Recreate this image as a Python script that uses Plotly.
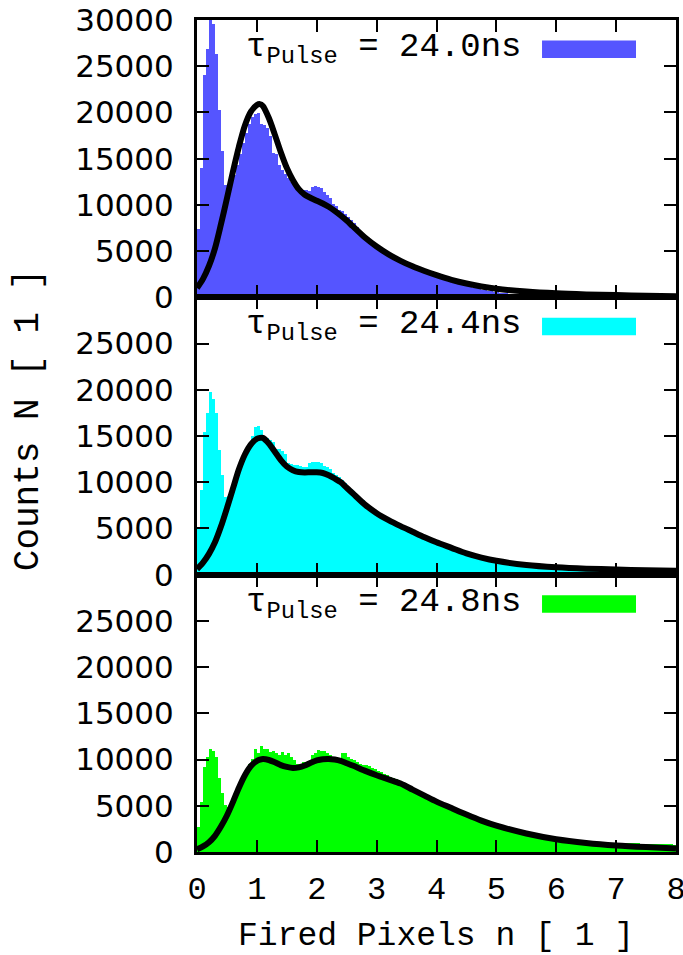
import numpy as np
import plotly.graph_objects as go
from plotly.subplots import make_subplots

# ---- histogram binning (fired pixels, 0.05 wide bins from 0 to 8) ----
BIN_WIDTH = 0.05
bin_left = np.arange(160) * BIN_WIDTH
bin_center = bin_left + BIN_WIDTH / 2

pulse_labels = ["24.0ns", "24.4ns", "24.8ns"]
bar_colors = ["#5555FF", "#00FFFF", "#00FF00"]

counts_24_0 = [
    7400, 14000, 24100, 26900, 30500, 29600, 26300, 20300, 15800, 12200,
    12000, 12300, 13200, 14300, 15500, 16700, 17800, 18800, 19500, 19800,
    19900, 18800, 18600, 18300, 17400, 15600, 15500, 14300, 13800, 13300,
    12900, 12500, 12200, 11900, 11700, 11600, 11600, 11500, 11900, 12000,
    11950, 11800, 11400, 11100, 10700, 10150, 9900, 9500, 9300, 9050,
    8700, 8400, 8000, 7600, 7200, 6800, 6500, 6200, 5900, 5600,
    5300, 5100, 4850, 4600, 4400, 4200, 4000, 3850, 3700, 3550,
    3400, 3250, 3100, 2950, 2800, 2700, 2550, 2450, 2350, 2250,
    2100, 2000, 1900, 1800, 1700, 1600, 1500, 1420, 1340, 1260,
    1180, 1100, 1030, 960, 890, 830, 770, 710, 660, 610,
    560, 520, 480, 440, 400, 370, 340, 310, 280, 250,
    230, 210, 190, 170, 150, 130, 120, 100, 90, 80,
    70, 60, 55, 50, 45, 40, 35, 30, 28, 25,
    22, 20, 18, 16, 15, 14, 12, 11, 10, 9,
    8, 8, 7, 7, 6, 6, 5, 5, 5, 4,
    4, 4, 3, 3, 3, 3, 2, 2, 2, 2,
]

counts_24_4 = [
    5000, 9100, 15400, 17400, 19700, 19000, 17400, 13400, 10700, 8400,
    8500, 9200, 10200, 11200, 12100, 12800, 13400, 13800, 15000, 15900,
    16100, 15600, 14900, 14700, 14500, 14300, 13600, 13600, 13300, 13000,
    12000, 11900, 11800, 11800, 11700, 11600, 11600, 12000, 12100, 12200,
    12100, 12000, 11700, 11600, 11400, 11000, 10700, 10500, 10200, 9900,
    9500, 9200, 8900, 8600, 8300, 8000, 7700, 7400, 7200, 6900,
    6600, 6400, 6200, 6000, 5800, 5600, 5400, 5300, 5100, 5000,
    4850, 4700, 4550, 4400, 4250, 4100, 3950, 3800, 3650, 3500,
    3350, 3250, 3100, 3000, 2850, 2750, 2600, 2500, 2400, 2300,
    2200, 2100, 2000, 1950, 1850, 1800, 1700, 1650, 1580, 1500,
    1450, 1400, 1350, 1300, 1250, 1200, 1150, 1100, 1080, 1040,
    1000, 970, 940, 910, 880, 850, 830, 810, 790, 770,
    750, 740, 720, 710, 700, 690, 680, 670, 660, 650,
    640, 640, 630, 620, 610, 600, 600, 590, 580, 580,
    570, 560, 560, 550, 550, 540, 540, 530, 530, 520,
    520, 510, 510, 500, 500, 490, 490, 480, 480, 470,
]

counts_24_8 = [
    2700, 5400, 9200, 10300, 11200, 11000, 10300, 8000, 6400, 5100,
    4900, 5400, 6000, 6800, 7600, 8300, 8600, 9600, 10150, 11200,
    10700, 11500, 11200, 11200, 10900, 11000, 10700, 10500, 10900, 10500,
    10700, 10300, 10000, 9600, 9600, 9800, 9600, 9600, 10500, 10700,
    11050, 10950, 10950, 10700, 10500, 10300, 10150, 10150, 10700, 10700,
    10300, 10150, 10000, 9800, 9600, 9500, 9400, 9300, 9100, 9000,
    8800, 8650, 8500, 8350, 8200, 8050, 7900, 7750, 7600, 7450,
    7250, 7100, 6900, 6750, 6550, 6400, 6200, 6050, 5850, 5700,
    5550, 5400, 5200, 5050, 4850, 4700, 4550, 4400, 4250, 4100,
    4000, 3850, 3700, 3550, 3450, 3300, 3200, 3050, 2950, 2850,
    2780, 2700, 2600, 2500, 2420, 2340, 2260, 2180, 2100, 2030,
    1970, 1900, 1840, 1780, 1720, 1670, 1620, 1570, 1520, 1480,
    1440, 1400, 1370, 1340, 1310, 1280, 1250, 1230, 1210, 1190,
    1170, 1150, 1130, 1120, 1100, 1090, 1080, 1060, 1050, 1040,
    1030, 1020, 1010, 1000, 990, 980, 970, 960, 950, 940,
    930, 920, 910, 900, 890, 880, 870, 860, 850, 840,
]

# ---- fitted model curves ----
fit_x = [0, 0.1, 0.2, 0.3, 0.4, 0.5, 0.6, 0.7, 0.8, 0.9, 1.0, 1.05, 1.1,
         1.2, 1.3, 1.4, 1.5, 1.6, 1.7, 1.8, 1.9, 2.0, 2.1, 2.2, 2.3, 2.4,
         2.5, 2.6, 2.8, 3.0, 3.2, 3.4, 3.6, 3.8, 4.0, 4.25, 4.5, 4.75,
         5.0, 5.5, 6.0, 6.5, 7.0, 7.5, 8.0]

fit_24_0 = [1000, 2000, 3400, 5300, 7900, 10700, 13600, 16300, 18600, 20100,
            20800, 20900, 20700, 19400, 17600, 15700, 14000, 12700, 11700,
            11100, 10750, 10450, 10150, 9800, 9350, 8850, 8300, 7700, 6500,
            5500, 4650, 3950, 3350, 2850, 2400, 1900, 1500, 1180, 930, 620,
            430, 320, 240, 170, 110]

fit_24_4 = [600, 1300, 2250, 3500, 5200, 7200, 9300, 11400, 13000, 14100,
            14700, 14800, 14800, 14200, 13300, 12400, 11700, 11300, 11100,
            11050, 11080, 11080, 11000, 10750, 10400, 10000, 9400, 8800, 7600,
            6650, 5900, 5250, 4650, 4050, 3500, 2900, 2300, 1850, 1500, 1050,
            800, 650, 560, 480, 420]

fit_24_8 = [290, 600, 1050, 1750, 2750, 3950, 5400, 6950, 8300, 9300,
            9850, 9980, 10050, 9950, 9700, 9400, 9200, 9080, 9150, 9350,
            9650, 9900, 10040, 10070, 10000, 9850, 9600, 9350, 8800, 8300,
            7850, 7400, 6750, 6100, 5450, 4750, 4050, 3400, 2850, 2000, 1380,
            980, 710, 530, 390]

counts = [counts_24_0, counts_24_4, counts_24_8]
fits = [fit_24_0, fit_24_4, fit_24_8]

x_ticks = list(range(0, 9))
y_ticks_top = [0, 5000, 10000, 15000, 20000, 25000, 30000]
y_ticks_lower = [0, 5000, 10000, 15000, 20000, 25000]

MONO = "Liberation Mono"
SANS = "DejaVu Sans"

fig = make_subplots(rows=3, cols=1, shared_xaxes=True, vertical_spacing=0)

for i in range(3):
    row = i + 1
    fig.add_trace(go.Bar(x=bin_center, y=counts[i], width=BIN_WIDTH,
                         marker=dict(color=bar_colors[i], line=dict(width=0)),
                         showlegend=False), row=row, col=1)
    fig.add_trace(go.Scatter(x=fit_x, y=fits[i], mode="lines",
                             line=dict(color="black", width=6, shape="spline",
                                       smoothing=0.8),
                             showlegend=False), row=row, col=1)

axis_common = dict(showline=True, linewidth=3, linecolor="black", mirror="ticks",
                   ticks="inside", ticklen=12, tickwidth=2, tickcolor="black",
                   showgrid=False, zeroline=False, automargin=False,
                   ticklabeloverflow="allow")

for i in range(3):
    row = i + 1
    yt = y_ticks_top if row == 1 else y_ticks_lower
    fig.update_xaxes(range=[0, 8], tickvals=x_ticks,
                     ticktext=[str(v) for v in x_ticks],
                     showticklabels=(row == 3),
                     tickfont=dict(family=MONO, size=32, color="black"),
                     ticklabelstandoff=6, row=row, col=1, **axis_common)
    fig.update_yaxes(range=[0, 30000], tickvals=yt,
                     ticktext=[str(v) for v in yt],
                     tickfont=dict(family=SANS, size=31, color="black"),
                     ticklabelstandoff=14, row=row, col=1, **axis_common)

# legend entries inside each panel: label text plus colour swatch
for i in range(3):
    suffix = "" if i == 0 else str(i + 1)
    fig.add_annotation(xref=f"x{suffix} domain", yref=f"y{suffix} domain",
                       x=0.099, y=0.895, xanchor="left", yanchor="middle",
                       text=f"τ<sub>Pulse</sub> = {pulse_labels[i]}",
                       showarrow=False,
                       font=dict(family=MONO, size=34, color="black"))
    fig.add_shape(type="rect", xref=f"x{suffix} domain", yref=f"y{suffix} domain",
                  x0=0.7203, x1=0.9165, y0=0.863, y1=0.926,
                  fillcolor=bar_colors[i], line=dict(width=0))

fig.add_annotation(xref="paper", yref="paper", x=-0.3528, y=0.519,
                   text="Counts N [ 1 ]", textangle=-90, showarrow=False,
                   xanchor="center", yanchor="middle",
                   font=dict(family=MONO, size=36, color="black"))
fig.add_annotation(xref="paper", yref="paper", x=0.4985, y=-0.1010,
                   text="Fired Pixels n [ 1 ]", showarrow=False,
                   xanchor="center", yanchor="middle",
                   font=dict(family=MONO, size=33, color="black"))

fig.update_layout(width=683, height=955,
                  margin=dict(l=197, r=7, t=20, b=103),
                  bargap=0, barmode="overlay",
                  plot_bgcolor="white", paper_bgcolor="white",
                  showlegend=False)

fig.write_html("out.html")
